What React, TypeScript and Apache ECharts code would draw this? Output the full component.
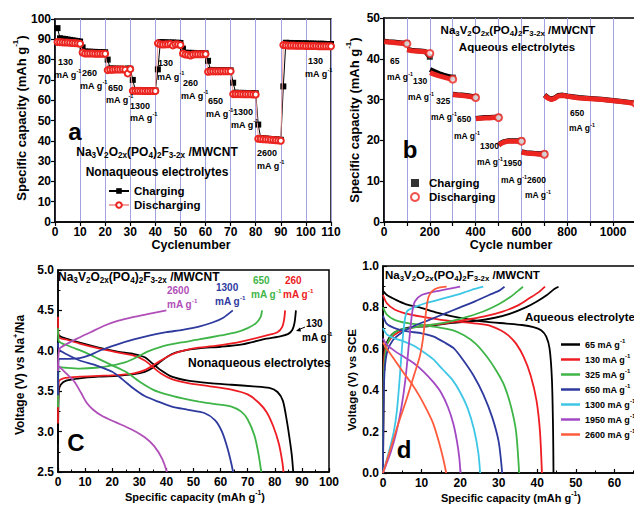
import React, { useEffect, useRef } from "react";
import * as echarts from "echarts";

const FONT = "Liberation Sans, Arial, Helvetica, sans-serif";

// ---------------- Panel a (nonaqueous rate test) ----------------
const aCycles = Array.from({ length: 110 }, (_, i) => i + 1);
const aCharge = [
  95.5, 90.5, 90.3, 90.1, 89.9, 89.7, 89.5, 89.3, 89.1, 88.9,
  86.0, 84.0, 83.9, 83.9, 83.8, 83.8, 83.7, 83.7, 83.6, 83.6,
  80.0, 75.6, 75.6, 75.5, 75.5, 75.5, 75.4, 75.4, 75.6, 75.5,
  70.0, 65.0, 65.0, 64.9, 64.9, 64.9, 64.9, 64.8, 64.8, 64.8,
  75.2, 88.6, 88.5, 88.5, 88.4, 88.4, 88.4, 88.3, 88.3, 88.2,
  85.4, 83.4, 83.3, 83.3, 83.3, 83.2, 83.2, 83.2, 83.1, 83.1,
  79.4, 74.9, 74.9, 74.8, 74.8, 74.8, 74.8, 74.7, 74.7, 74.7,
  68.6, 63.7, 63.6, 63.6, 63.6, 63.5, 63.5, 63.5, 63.4, 63.4,
  48.0, 41.3, 41.2, 41.1, 41.0, 40.9, 40.8, 40.7, 40.6, 40.5,
  66.8, 88.3, 88.2, 88.2, 88.1, 88.1, 88.1, 88.0, 88.0, 88.0,
  87.9, 87.9, 87.9, 87.8, 87.8, 87.8, 87.8, 87.7, 87.7, 87.7,
];
const aDischarge = [
  88.7, 88.6, 88.5, 88.4, 88.4, 88.3, 88.2, 88.1, 88.0, 87.8,
  83.5, 83.0, 83.0, 83.0, 83.0, 82.9, 82.9, 82.9, 82.9, 82.9,
  74.8, 75.0, 75.0, 75.1, 75.1, 75.1, 75.2, 75.0, 73.2, 75.3,
  64.6, 64.6, 64.6, 64.6, 64.5, 64.5, 64.5, 64.5, 64.5, 64.5,
  88.0, 87.6, 87.4, 87.5, 87.6, 87.7, 87.0, 87.6, 87.5, 87.2,
  83.0, 82.5, 82.4, 82.0, 82.5, 82.6, 82.6, 82.6, 82.6, 82.7,
  74.0, 74.2, 74.2, 74.2, 74.2, 74.2, 74.3, 74.3, 74.3, 74.3,
  63.0, 63.0, 63.0, 63.0, 62.9, 62.9, 62.9, 62.9, 62.8, 62.8,
  41.0, 40.9, 40.8, 40.7, 40.6, 40.5, 40.4, 40.3, 40.2, 40.0,
  87.2, 87.0, 86.9, 86.9, 86.9, 86.8, 86.8, 86.8, 86.8, 86.7,
  86.7, 86.7, 86.7, 86.7, 86.6, 86.6, 86.6, 86.6, 86.6, 86.6,
];
const aRates = ["130", "260", "650", "1300", "130", "260", "650", "1300", "2600", "130"];

// ---------------- Panel b (aqueous rate test) ----------------
const bCycles = [
  [1, 20, 40, 60, 80, 100],
  [101, 120, 140, 160, 180, 200],
  [201, 220, 240, 260, 280, 300],
  [301, 320, 340, 360, 380, 400],
  [401, 420, 440, 460, 480, 500],
  [501, 510, 520, 540, 570, 600],
  [601, 620, 640, 660, 680, 700],
  [701, 715, 730, 745, 760, 780, 800, 850, 900, 950, 1000, 1050, 1100],
];
const bDischarge = [
  [44.2, 44.1, 44.0, 43.9, 43.8, 43.7],
  [42.2, 42.0, 41.9, 41.8, 41.7, 41.3],
  [36.6, 36.2, 35.8, 35.5, 35.2, 35.0],
  [31.2, 31.1, 31.0, 30.9, 30.7, 30.5],
  [25.3, 25.4, 25.5, 25.5, 25.6, 25.6],
  [18.8, 19.2, 19.5, 19.8, 19.8, 19.8],
  [17.1, 16.9, 16.8, 16.7, 16.6, 16.6],
  [31.0, 30.4, 30.0, 30.3, 30.9, 31.0, 30.8, 30.4, 30.2, 30.0, 29.7, 29.4, 29.0],
];
const bCharge = [
  [44.3, 44.2, 44.1, 44.0, 43.9, 43.8],
  [42.3, 42.1, 42.0, 41.9, 41.8, 40.5],
  [37.4, 36.9, 36.4, 36.0, 35.7, 35.4],
  [31.3, 31.2, 31.1, 31.0, 30.8, 30.6],
  [25.4, 25.5, 25.6, 25.6, 25.7, 25.7],
  [18.9, 19.3, 19.6, 19.9, 19.9, 19.9],
  [17.2, 17.0, 16.9, 16.8, 16.7, 16.7],
  [31.1, 30.5, 30.1, 30.4, 31.0, 31.1, 30.9, 30.5, 30.3, 30.1, 29.8, 29.5, 29.1],
];
const bRates = ["65", "130", "325", "650", "1300", "1950", "2600", "650"];

// ---------------- Panel c (nonaqueous voltage profiles) ----------------
const cRates = ["130", "260", "650", "1300", "2600"];
const cChg130 = [[0, 2.85], [0.3, 3.5], [1, 3.58], [3, 3.63], [8, 3.66], [15, 3.68], [22, 3.69], [28, 3.71], [32, 3.74], [35, 3.79], [38, 3.87], [42, 3.96], [46, 4.0], [52, 4.03], [60, 4.05], [68, 4.08], [77, 4.15], [82, 4.18], [85, 4.21], [86.5, 4.26], [87.3, 4.35], [87.8, 4.5]];
const cDis130 = [[0, 4.25], [0.3, 4.19], [3, 4.15], [8, 4.1], [15, 4.04], [22, 3.99], [28, 3.96], [32, 3.92], [35, 3.84], [38, 3.76], [42, 3.68], [48, 3.63], [56, 3.6], [64, 3.58], [72, 3.56], [78, 3.54], [81, 3.49], [83, 3.38], [84.5, 3.12], [85.6, 2.88], [86.3, 2.7], [86.8, 2.5]];
const cChg260 = [[0, 3.1], [0.3, 3.62], [2, 3.66], [8, 3.68], [15, 3.69], [22, 3.7], [28, 3.72], [32, 3.76], [36, 3.84], [40, 3.92], [44, 3.98], [50, 4.03], [58, 4.06], [66, 4.1], [77, 4.19], [81, 4.23], [82.8, 4.3], [83.5, 4.4], [83.8, 4.5]];
const cDis260 = [[0, 4.42], [0.3, 4.17], [3, 4.14], [8, 4.09], [15, 4.03], [22, 3.98], [28, 3.94], [32, 3.88], [35, 3.8], [38, 3.72], [42, 3.65], [48, 3.6], [56, 3.56], [64, 3.52], [70, 3.46], [74, 3.36], [77, 3.24], [79.5, 3.06], [81.5, 2.85], [82.8, 2.62], [83.2, 2.5]];
const cChg650 = [[0, 3.3], [0.3, 3.8], [3, 3.79], [8, 3.78], [14, 3.79], [20, 3.82], [25, 3.86], [29, 3.92], [33, 3.99], [38, 4.05], [45, 4.1], [52, 4.14], [60, 4.19], [66, 4.23], [70, 4.28], [73, 4.34], [74.8, 4.42], [75.3, 4.5]];
const cDis650 = [[0, 4.28], [0.3, 4.12], [4, 4.06], [10, 3.98], [15, 3.9], [20, 3.82], [25, 3.74], [30, 3.62], [35, 3.52], [40, 3.46], [46, 3.41], [52, 3.37], [58, 3.34], [64, 3.31], [67.5, 3.25], [70, 3.15], [72.5, 2.95], [74, 2.72], [75, 2.5]];
const cChg1300 = [[0, 3.45], [0.3, 3.9], [4, 3.9], [8, 3.91], [12, 3.95], [16, 4.01], [22, 4.08], [28, 4.14], [34, 4.19], [40, 4.23], [46, 4.26], [52, 4.3], [57, 4.35], [61, 4.41], [64.5, 4.5]];
const cDis1300 = [[0, 4.1], [0.3, 4.02], [3, 3.96], [8, 3.88], [14, 3.82], [20, 3.74], [24, 3.64], [28, 3.53], [32, 3.44], [37, 3.37], [42, 3.31], [48, 3.27], [54, 3.23], [58, 3.14], [60.5, 3.0], [62.5, 2.8], [64, 2.6], [64.6, 2.5]];
const cChg2600 = [[0, 3.75], [0.5, 4.02], [3, 4.08], [7, 4.15], [12, 4.23], [17, 4.31], [22, 4.37], [28, 4.42], [34, 4.46], [40, 4.5]];
const cDis2600 = [[0, 3.82], [3, 3.72], [6, 3.62], [8.5, 3.48], [10.5, 3.36], [13, 3.27], [16, 3.2], [21, 3.12], [27, 3.03], [32, 2.93], [35.5, 2.82], [38.5, 2.66], [40.2, 2.5]];
const cCharge = [cChg130, cChg260, cChg650, cChg1300, cChg2600];
const cDischarge = [cDis130, cDis260, cDis650, cDis1300, cDis2600];

// ---------------- Panel d (aqueous voltage profiles) ----------------
const dRates = ["65", "130", "325", "650", "1300", "1950", "2600"];
const dChg65 = [[0, 0], [0.2, 0.5], [0.5, 0.6], [1.5, 0.65], [3, 0.68], [6, 0.7], [12, 0.71], [18, 0.725], [24, 0.735], [29, 0.75], [33, 0.77], [37, 0.8], [40, 0.83], [42.5, 0.86], [44.5, 0.89], [45.5, 0.9]];
const dDis65 = [[0, 0.88], [1, 0.86], [3.5, 0.835], [6, 0.815], [9.5, 0.8], [14, 0.775], [18, 0.757], [23, 0.74], [27, 0.73], [32, 0.722], [36, 0.715], [39, 0.705], [41, 0.69], [42.3, 0.66], [43.2, 0.6], [43.8, 0.45], [44.1, 0.2], [44.2, 0]];
const dChg130 = [[0, 0], [0.2, 0.5], [0.6, 0.6], [2, 0.65], [4, 0.68], [7, 0.7], [10, 0.71], [15, 0.72], [20, 0.735], [26, 0.755], [31, 0.78], [35, 0.81], [38, 0.845], [40.5, 0.875], [42, 0.9]];
const dDis130 = [[0, 0.86], [1, 0.82], [3, 0.79], [6, 0.77], [10, 0.755], [15, 0.74], [20, 0.73], [25, 0.72], [28, 0.71], [30.5, 0.69], [32.5, 0.665], [34.5, 0.625], [36.5, 0.56], [38.3, 0.47], [39.8, 0.35], [40.7, 0.2], [41.2, 0]];
const dChg325 = [[0, 0], [0.2, 0.45], [0.8, 0.6], [2, 0.66], [4, 0.69], [7, 0.7], [10, 0.71], [14, 0.72], [18, 0.735], [22, 0.755], [26, 0.78], [30, 0.815], [33, 0.85], [35, 0.88], [36.3, 0.9]];
const dDis325 = [[0, 0.8], [1, 0.765], [3, 0.74], [6, 0.725], [10, 0.715], [14, 0.705], [18, 0.69], [21, 0.665], [24, 0.625], [27, 0.56], [29.5, 0.49], [31.5, 0.42], [33.2, 0.32], [34.5, 0.2], [35.3, 0]];
const dChg650 = [[0, 0], [0.3, 0.45], [1, 0.58], [2.5, 0.64], [5, 0.68], [8, 0.71], [12, 0.74], [16, 0.77], [20, 0.8], [24, 0.83], [27.5, 0.86], [30, 0.88], [31.5, 0.9]];
const dDis650 = [[0, 0.76], [1, 0.72], [3, 0.7], [6, 0.685], [10, 0.675], [13, 0.66], [16, 0.63], [18.5, 0.6], [21, 0.54], [23.5, 0.47], [26, 0.38], [28.3, 0.27], [30, 0.15], [30.9, 0]];
const dChg1300 = [[0, 0], [1.5, 0.1], [2.8, 0.2], [3.6, 0.3], [4.3, 0.45], [4.9, 0.6], [5.5, 0.72], [6.2, 0.78], [8, 0.8], [11, 0.82], [15, 0.84], [19, 0.86], [23, 0.885], [26, 0.9]];
const dDis1300 = [[0, 0.7], [1, 0.67], [3, 0.65], [5.5, 0.635], [8, 0.615], [10.5, 0.585], [13, 0.55], [15.5, 0.5], [18, 0.45], [20, 0.39], [22, 0.31], [23.6, 0.21], [24.7, 0.1], [25.2, 0]];
const dChg1950 = [[0, 0], [2, 0.1], [3.5, 0.2], [4.8, 0.32], [5.8, 0.45], [6.5, 0.58], [7.1, 0.7], [7.6, 0.78], [8.3, 0.83], [10, 0.86], [13, 0.875], [17, 0.89], [20, 0.9]];
const dDis1950 = [[0, 0.65], [1, 0.62], [3, 0.59], [5.5, 0.56], [8, 0.53], [10.5, 0.49], [13, 0.44], [15, 0.39], [16.8, 0.32], [18.2, 0.24], [19.2, 0.15], [19.8, 0.07], [20.1, 0]];
const dChg2600 = [[0, 0], [2, 0.12], [4, 0.24], [6, 0.35], [8, 0.47], [9.5, 0.56], [10.3, 0.64], [10.8, 0.72], [11.3, 0.8], [11.8, 0.85], [12.8, 0.88], [14.5, 0.895], [16.5, 0.9]];
const dDis2600 = [[0, 0.63], [1, 0.6], [2.5, 0.56], [4, 0.52], [5.5, 0.48], [7.5, 0.43], [9.5, 0.37], [11.5, 0.3], [13, 0.24], [14.5, 0.15], [15.6, 0.07], [16.4, 0]];
const dCharge = [dChg65, dChg130, dChg325, dChg650, dChg1300, dChg1950, dChg2600];
const dDischarge = [dDis65, dDis130, dDis325, dDis650, dDis1300, dDis1950, dDis2600];

// ---------------- styles ----------------
const cColors = ["#000000", "#ee1d23", "#3fb548", "#2e3a9e", "#b04fb8"];
const dColors = ["#000000", "#ee1d23", "#3fb548", "#2e3a9e", "#3ec6e6", "#a248c4", "#ff5b3c"];
const RED = "#ec2520";
const GRIDLINE = "#a2a2e2";

function richFor(size: number, color: string) {
  return {
    s: { fontSize: size * 0.68, fontWeight: "bold", fontFamily: FONT, fill: color, color, padding: [size * 0.62, 0, 0, 0] },
    p: { fontSize: size * 0.62, fontWeight: "bold", fontFamily: FONT, fill: color, color, padding: [0, 0, size * 0.8, 0] },
  };
}

function txt(x: number, y: number, text: string, size: number, opts: any = {}) {
  const color = opts.color || "#000";
  const align = opts.align || "left";
  return {
    type: "text",
    x,
    y,
    rotation: opts.rotation || 0,
    silent: true,
    z: 100,
    style: {
      text,
      fill: color,
      fontSize: size,
      fontWeight: "bold",
      fontFamily: FONT,
      align,
      verticalAlign: "middle",
      textAlign: align,
      textVerticalAlign: "middle",
      rich: richFor(size, color),
    },
  };
}

const FORMULA = "Na{s|3}V{s|2}O{s|2x}(PO{s|4}){s|2}F{s|3-2x} /MWCNT";
const CAP_TITLE = "Specific capacity (mAh g{p|-1})";

function axisBase(extra: any = {}) {
  return {
    axisLine: { show: true, onZero: false, lineStyle: { color: "#000", width: 1.5 } },
    axisTick: { show: true, inside: false, length: 4, lineStyle: { color: "#000", width: 1.2 } },
    axisLabel: { color: "#000", fontWeight: "bold", fontSize: 12, fontFamily: FONT, margin: 4 },
    splitLine: { show: false },
    ...extra,
  };
}

export default function App() {
  const ref = useRef<HTMLDivElement>(null);
  useEffect(() => {
    if (!ref.current) return;
    const chart = echarts.init(ref.current, undefined, { renderer: "svg" });
    const series: any[] = [];

    // Panel a
    series.push({
      name: "Charging",
      type: "line",
      xAxisIndex: 0,
      yAxisIndex: 0,
      data: aCycles.map((c, i) => [c, aCharge[i]]),
      symbol: "rect",
      symbolSize: 6,
      showAllSymbol: true,
      itemStyle: { color: "#000" },
      lineStyle: { color: "#000", width: 1 },
      z: 2,
    });
    series.push({
      name: "Discharging",
      type: "line",
      xAxisIndex: 0,
      yAxisIndex: 0,
      data: aCycles.map((c, i) => [c, aDischarge[i]]),
      symbol: "emptyCircle",
      symbolSize: 6,
      showAllSymbol: true,
      itemStyle: { color: RED, borderWidth: 1.2 },
      lineStyle: { color: "#f3a0a0", width: 1 },
      z: 3,
    });

    // Panel b bands
    bCycles.forEach((cyc, s) => {
      series.push({
        type: "line",
        xAxisIndex: 1,
        yAxisIndex: 1,
        data: cyc.map((c, i) => [c, bCharge[s][i]]),
        symbol: "none",
        lineStyle: { color: "#000", width: 5 },
        z: 2,
      });
      series.push({
        type: "line",
        xAxisIndex: 1,
        yAxisIndex: 1,
        data: cyc.map((c, i) => [c, bDischarge[s][i]]),
        symbol: "none",
        lineStyle: { color: RED, width: 5 },
        z: 3,
      });
    });
    series.push({
      name: "Charging ",
      type: "scatter",
      xAxisIndex: 1,
      yAxisIndex: 1,
      data: bCycles.map((cyc, s) => [cyc[cyc.length - 1], bCharge[s][cyc.length - 1]]),
      symbol: "rect",
      symbolSize: 6,
      itemStyle: { color: "#000" },
      z: 4,
    });
    series.push({
      name: "Discharging ",
      type: "scatter",
      xAxisIndex: 1,
      yAxisIndex: 1,
      data: bCycles.map((cyc, s) => [cyc[cyc.length - 1], bDischarge[s][cyc.length - 1]]),
      symbol: "emptyCircle",
      symbolSize: 7,
      itemStyle: { color: RED, borderWidth: 1.4 },
      z: 5,
    });

    // Panel c
    cRates.forEach((r, i) => {
      [cCharge[i], cDischarge[i]].forEach((d) => {
        series.push({
          type: "line",
          xAxisIndex: 2,
          yAxisIndex: 2,
          data: d,
          symbol: "none",
          smooth: 0.25,
          lineStyle: { color: cColors[i], width: 1.8 },
          z: 2,
        });
      });
    });

    // Panel d
    dRates.forEach((r, i) => {
      [dCharge[i], dDischarge[i]].forEach((d) => {
        series.push({
          name: r + " mA g",
          type: "line",
          xAxisIndex: 3,
          yAxisIndex: 3,
          data: d,
          symbol: "none",
          smooth: 0.25,
          itemStyle: { color: dColors[i] },
          lineStyle: { color: dColors[i], width: 1.8 },
          z: 2,
        });
      });
    });

    const G: any[] = [];
    // Panel a texts
    const aLabelPos = [
      [58, 62, 54, 75], [82, 73, 80, 86], [108, 88, 106, 100], [130, 106, 130, 118], [158, 63, 157, 77],
      [183, 83, 181, 96], [208, 101, 206, 114], [233, 112, 231, 125], [257, 153, 257, 166], [308, 61, 305, 74],
    ];
    aRates.forEach((r, i) => {
      const [x1, y1, x2, y2] = aLabelPos[i];
      G.push(txt(x1, y1, r, 9), txt(x2, y2, "mA g{p|-1}", 9));
    });
    G.push(txt(75, 131, "a", 24, { align: "center" }));
    G.push(txt(157, 152, FORMULA, 12, { align: "center" }));
    G.push(txt(157, 172, "Nonaqueous electrolytes", 12, { align: "center" }));
    G.push(txt(21, 118, CAP_TITLE, 13, { align: "center", rotation: Math.PI / 2 }));
    G.push(txt(191, 245, "Cyclenumber", 12.5, { align: "center" }));

    // Panel b texts
    const bLabelPos = [
      [390, 61, 387, 77], [413, 81, 408, 97], [436, 101, 431, 117], [457, 119, 454, 136],
      [480, 146, 477, 162], [503, 163, 501, 180], [527, 180, 525, 195], [570, 113, 569, 128],
    ];
    bRates.forEach((r, i) => {
      const [x1, y1, x2, y2] = bLabelPos[i];
      G.push(txt(x1, y1, r, 8.5), txt(x2, y2, "mA g{p|-1}", 8.5));
    });
    G.push(txt(410, 149, "b", 24, { align: "center" }));
    G.push(txt(518, 30, FORMULA, 11.5, { align: "center" }));
    G.push(txt(517, 47, "Aqueous electrolytes", 11.5, { align: "center" }));
    G.push(txt(354, 120, CAP_TITLE, 13, { align: "center", rotation: Math.PI / 2 }));
    G.push(txt(511, 245, "Cycle number", 12.5, { align: "center" }));

    // Panel c texts
    const cLabelPos = [[306, 323, 302, 337], [285, 280, 283, 294], [253, 280, 251, 294], [216, 287, 215, 301], [167, 290, 167, 304]];
    cRates.forEach((r, i) => {
      const [x1, y1, x2, y2] = cLabelPos[i];
      G.push(txt(x1, y1, r, 10, { color: cColors[i] }), txt(x2, y2, "mA g{p|-1}", 10, { color: cColors[i] }));
    });
    G.push({ type: "line", silent: true, z: 100, shape: { x1: 305, y1: 327, x2: 298, y2: 330 }, style: { stroke: "#000", lineWidth: 1 } });
    G.push({ type: "polygon", silent: true, z: 100, shape: { points: [[296, 331], [300, 327.5], [301, 331.5]] }, style: { fill: "#000" } });
    G.push(txt(58, 277, FORMULA, 12));
    G.push(txt(188, 363, "Nonaqueous electrolytes", 12));
    G.push(txt(76, 442, "C", 24, { align: "center" }));
    G.push(txt(20, 375, "Voltage (V) vs Na{p|+}/Na", 12, { align: "center", rotation: Math.PI / 2 }));
    G.push(txt(195, 497, CAP_TITLE, 11, { align: "center" }));

    // Panel d texts
    G.push(txt(385, 275, FORMULA, 11.5));
    G.push(txt(525, 317, "Aqueous electrolytes", 11.5));
    G.push(txt(404, 449, "d", 24, { align: "center" }));
    G.push(txt(352, 380, "Voltage (V) vs SCE", 11.5, { align: "center", rotation: Math.PI / 2 }));
    G.push(txt(511, 498, CAP_TITLE, 11, { align: "center" }));

    const gridBox = { show: true, borderColor: "#000", borderWidth: 1.5, backgroundColor: "transparent", outerBoundsMode: "none", containLabel: false };
    const legendText = { fontSize: 11.5, fontWeight: "bold", color: "#000", fontFamily: FONT };

    const option: any = {
      animation: false,
      backgroundColor: "#fff",
      grid: [
        { left: 55, top: 19, width: 276, height: 203, ...gridBox },
        { left: 384, top: 18, width: 252, height: 204, ...gridBox },
        { left: 58, top: 270, width: 271, height: 202, ...gridBox },
        { left: 383, top: 266, width: 270, height: 207, ...gridBox },
      ],
      xAxis: [
        axisBase({ gridIndex: 0, type: "value", min: 0, max: 110, interval: 10, splitLine: { show: true, lineStyle: { color: GRIDLINE, width: 1 } } }),
        axisBase({
          gridIndex: 1, type: "value", min: 0, max: 1100, interval: 100,
          splitLine: { show: true, lineStyle: { color: GRIDLINE, width: 1 } },
          axisLabel: { color: "#000", fontWeight: "bold", fontSize: 12, fontFamily: FONT, margin: 4, formatter: (v: number) => (v % 200 === 0 && v <= 1000 ? String(v) : "") },
        }),
        axisBase({
          gridIndex: 2, type: "value", min: 0, max: 100, interval: 10,
          axisTick: { show: true, inside: true, length: 4, lineStyle: { color: "#000", width: 1.2 } },
          minorTick: { show: true, splitNumber: 2, length: 2.5, lineStyle: { color: "#000", width: 1 } },
          axisLabel: { color: "#000", fontWeight: "bold", fontSize: 12, fontFamily: FONT, margin: 4 },
        }),
        axisBase({
          gridIndex: 3, type: "value", min: 0, max: 70, interval: 10,
          axisTick: { show: true, inside: true, length: 4, lineStyle: { color: "#000", width: 1.2 } },
          minorTick: { show: true, splitNumber: 2, length: 2.5, lineStyle: { color: "#000", width: 1 } },
          axisLabel: { color: "#000", fontWeight: "bold", fontSize: 12, fontFamily: FONT, margin: 4, showMaxLabel: false, formatter: (v: number) => (v < 70 ? String(v) : "") },
        }),
      ],
      yAxis: [
        axisBase({ gridIndex: 0, type: "value", min: 0, max: 100, interval: 10 }),
        axisBase({ gridIndex: 1, type: "value", min: 0, max: 50, interval: 10 }),
        axisBase({
          gridIndex: 2, type: "value", min: 2.5, max: 5.0, interval: 0.5,
          axisTick: { show: true, inside: true, length: 4, lineStyle: { color: "#000", width: 1.2 } },
          minorTick: { show: true, splitNumber: 2, length: 2.5, lineStyle: { color: "#000", width: 1 } },
          axisLabel: { color: "#000", fontWeight: "bold", fontSize: 12, fontFamily: FONT, margin: 4, formatter: (v: number) => v.toFixed(1) },
        }),
        axisBase({
          gridIndex: 3, type: "value", min: 0, max: 1.0, interval: 0.2,
          axisTick: { show: true, inside: true, length: 4, lineStyle: { color: "#000", width: 1.2 } },
          minorTick: { show: true, splitNumber: 2, length: 2.5, lineStyle: { color: "#000", width: 1 } },
          axisLabel: { color: "#000", fontWeight: "bold", fontSize: 12, fontFamily: FONT, margin: 4, formatter: (v: number) => v.toFixed(1) },
        }),
      ],
      legend: [
        {
          left: 108, top: 185, padding: 0, orient: "vertical", itemWidth: 20, itemHeight: 7, itemGap: 2,
          selectedMode: false, data: ["Charging", "Discharging"], textStyle: legendText,
        },
        {
          left: 410, top: 177, padding: 0, orient: "vertical", itemWidth: 8, itemHeight: 8, itemGap: 2,
          selectedMode: false, data: ["Charging ", "Discharging "],
          textStyle: { ...legendText, padding: [0, 0, 0, 5] },
        },
        {
          left: 561, top: 338, padding: 0, orient: "vertical", itemWidth: 19, itemHeight: 2.5, itemGap: 4,
          selectedMode: false, data: dRates.map((r) => ({ name: r + " mA g", icon: "rect" })),
          formatter: (n: string) => "{t|" + n + "}{p|-1}",
          textStyle: {
            color: "#000", fontFamily: FONT, fontWeight: "bold", fontSize: 9,
            rich: {
              t: { fontSize: 9, fontWeight: "bold", fontFamily: FONT, color: "#000" },
              p: { fontSize: 6, fontWeight: "bold", fontFamily: FONT, color: "#000", padding: [0, 0, 7, 0] },
            },
          },
        },
      ],
      graphic: G,
      series,
    };
    chart.setOption(option);
    return () => chart.dispose();
  }, []);
  return (
    <div style={{ position: "absolute", left: 0, top: 0, width: 634, height: 507, overflow: "hidden", background: "#fff" }}>
      <div ref={ref} style={{ position: "absolute", left: 0, top: 0, width: 690, height: 507 }} />
    </div>
  );
}
